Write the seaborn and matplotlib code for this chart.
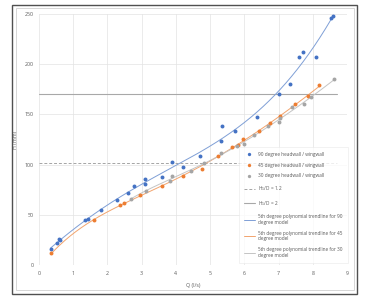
import numpy as np
import pandas as pd
import matplotlib
matplotlib.use("Agg")
import matplotlib.pyplot as plt
import seaborn as sns
from matplotlib.lines import Line2D
from matplotlib.patches import Rectangle

# ---- data ----
q90 = [0.34, 0.52, 0.58, 0.61, 1.34, 1.44, 1.80, 2.28, 2.59, 2.79, 3.09, 3.11, 3.60, 3.89,
       4.22, 4.70, 5.33, 5.35, 5.73, 6.36, 7.00, 7.32, 7.60, 7.71, 8.09, 8.53, 8.58]
h90 = [16, 21.6, 26, 24.5, 44.5, 46, 54.5, 64.7, 71.6, 78.6, 86, 81, 87.6, 102.8,
       97.8, 108.8, 124, 138, 133, 147.6, 170, 180.4, 207, 212, 207, 246.5, 248]

q45 = [0.36, 1.62, 2.36, 2.48, 2.96, 3.59, 4.20, 4.77, 5.22, 5.63, 5.82, 5.97, 6.43,
       6.75, 7.03, 7.49, 7.86, 8.19]
h45 = [11.6, 44.5, 59.7, 61.4, 69.8, 79, 89, 95.5, 108.8, 118, 119.7, 125.4, 133.6,
       141, 148, 160, 168, 178.8]

q30 = [2.68, 3.13, 3.83, 3.88, 4.43, 4.82, 5.33, 5.78, 6.00, 6.29, 6.70, 7.00, 7.03,
       7.38, 7.74, 7.96, 8.63]
h30 = [66, 73.5, 84, 88.6, 93.2, 101.2, 111.7, 118.4, 120.7, 129.4, 138, 142.3, 146,
       157.5, 160, 167, 185]

hd12 = 102
hd2 = 170
hline_end = 8.7

labels = ["90 degree headwall / wingwall", "45 degree headwall / wingwall",
          "30 degree headwall / wingwall"]
trend_labels = ["5th degree polynomial trendline for 90\ndegree model",
                "5th degree polynomial trendline for 45\ndegree model",
                "5th degree polynomial trendline for 30\ndegree model"]

# ---- style ----
sns.set_theme(style="white")
plt.rcParams["font.family"] = ["Open Sans", "DejaVu Sans"]
txt = "#595959"

fig = plt.figure(figsize=(3.68, 2.97), dpi=100)
ax = fig.add_axes([39/368, 1-265/297, 308/368, 251/297])

cols = ["#4472C4", "#ED7D31", "#A5A5A5"]
tcols = ["#7F9FD6", "#F2A46E", "#C4C4C4"]
series = [(q90, h90), (q45, h45), (q30, h30)]

# reference lines
ax.plot([0, hline_end], [hd12, hd12], color="#A5A5A5", lw=0.7, ls=(0, (3, 2)), zorder=2)
ax.plot([0, hline_end], [hd2, hd2], color="#A8A8A8", lw=0.8, zorder=2)

# trendlines (5th degree polynomial fits)
for (q, h), c in zip(series, tcols):
    coef = np.polyfit(q, h, 5)
    xs = np.linspace(min(q), max(q), 200)
    df = pd.DataFrame({"Q": xs, "H": np.polyval(coef, xs)})
    sns.lineplot(data=df, x="Q", y="H", ax=ax, color=c, lw=0.7, zorder=3)

for (q, h), c in zip(series, cols):
    df = pd.DataFrame({"Q": q, "H": h})
    sns.scatterplot(data=df, x="Q", y="H", ax=ax, color=c, s=8, linewidth=0, zorder=4)

ax.set_xlim(0, 9)
ax.set_ylim(0, 250)
ax.set_xticks(range(0, 10))
ax.set_yticks(range(0, 251, 50))
ax.grid(True, color="#E3E3E3", lw=0.5)
for s in ax.spines.values():
    s.set_visible(False)
ax.tick_params(axis="both", length=0, labelsize=3.8, colors=txt, pad=4)
ax.set_xlabel("Q (l/s)", fontsize=3.8, color=txt, labelpad=5)
ax.set_ylabel("H (mm)", fontsize=3.8, color=txt, labelpad=5)

handles = [Line2D([], [], ls="none", marker="o", ms=2.4, color=c, mec="none") for c in cols]
handles += [Line2D([], [], color="#A5A5A5", lw=0.7, ls=(0, (3, 2))),
            Line2D([], [], color="#A8A8A8", lw=0.8)]
handles += [Line2D([], [], color=c, lw=0.7) for c in tcols]
leg_labels = labels + ["H$_1$/D = 1.2", "H$_1$/D = 2"] + trend_labels
leg = ax.legend(handles, leg_labels, loc="upper left", bbox_to_anchor=(0.643, 0.48),
                fontsize=3.4, frameon=True, fancybox=False, labelspacing=1.25,
                handlelength=2.2, handletextpad=0.8, borderpad=1.0,
                labelcolor=txt)
leg.get_frame().set_edgecolor("#E8E8E8")
leg.get_frame().set_linewidth(0.5)

# outer borders
fig.patches.append(Rectangle((16/368, 1-290/297), 338/368, 282/297, transform=fig.transFigure,
                             fill=False, edgecolor="#D0D0D0", lw=0.6))
fig.patches.append(Rectangle((12/368, 1-294/297), 345/368, 289/297, transform=fig.transFigure,
                             fill=False, edgecolor="#505050", lw=1.0))

fig.savefig("out.png", dpi=100)
